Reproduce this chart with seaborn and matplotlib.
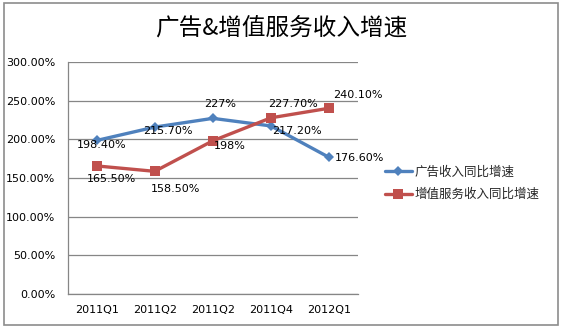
import matplotlib
matplotlib.use("Agg")
import matplotlib.pyplot as plt
import seaborn as sns
import pandas as pd
from matplotlib.patches import Rectangle

# quarters as shown on the axis
quarters = ["2011Q1", "2011Q2", "2011Q2", "2011Q4", "2012Q1"]
series_names = ["广告收入同比增速", "增值服务收入同比增速"]
ad_growth = [198.40, 215.70, 227.0, 217.20, 176.60]
vas_growth = [165.50, 158.50, 198.0, 227.70, 240.10]
ad_labels = ["198.40%", "215.70%", "227%", "217.20%", "176.60%"]
vas_labels = ["165.50%", "158.50%", "198%", "227.70%", "240.10%"]
y_ticks = [0, 50, 100, 150, 200, 250, 300]

sns.set_theme(style="white")
plt.rcParams["font.family"] = ["Noto Sans CJK SC", "DejaVu Sans"]

blue = "#4F81BD"
red = "#C0504D"
grid_c = "#868686"

df = pd.DataFrame({
    "pos": list(range(len(quarters))) * 2,
    "value": ad_growth + vas_growth,
    "series": [series_names[0]] * len(quarters) + [series_names[1]] * len(quarters),
})

fig = plt.figure(figsize=(5.63, 3.31), dpi=100)
ax = fig.add_axes([0.12, 0.112, 0.516, 0.701])

sns.lineplot(data=df, x="pos", y="value", hue="series", style="series",
             palette=[blue, red], markers=["D", "s"], dashes=False,
             markersize=6, linewidth=2.4, markeredgewidth=0, ax=ax, legend=False)
# enlarge the square markers of the second series
lines = ax.get_lines()
lines[0].set_markersize(5.5)
lines[1].set_markersize(7.5)

ax.set_xlim(-0.5, len(quarters) - 0.5)
ax.set_ylim(0, 300)
ax.set_yticks(y_ticks)
ax.set_yticklabels([f"{v:.2f}%" for v in y_ticks], fontsize=8, family="DejaVu Sans")
ax.set_xticks(range(len(quarters)))
ax.set_xticklabels(quarters, fontsize=8, family="DejaVu Sans")
ax.tick_params(axis="y", length=0, pad=9, colors="#000000")
ax.tick_params(axis="x", length=0, pad=8, colors="#000000")
ax.set_xlabel("")
ax.set_ylabel("")
ax.yaxis.grid(True, color=grid_c, linewidth=0.9)
ax.set_axisbelow(True)
for side in ["top", "right"]:
    ax.spines[side].set_visible(False)
for side in ["left", "bottom"]:
    ax.spines[side].set_color(grid_c)
    ax.spines[side].set_linewidth(0.9)

# value labels next to each point (pixel offsets)
ad_off = [(5, -5), (13, -4), (7, 14), (26, -5), (30, -1)]
vas_off = [(15, -13), (21, -18), (17, -5), (22, 14), (29, 13)]
for i, (v, t, o) in enumerate(zip(ad_growth, ad_labels, ad_off)):
    ax.annotate(t, (i, v), xytext=o, textcoords="offset pixels", ha="center",
                va="center", fontsize=8, family="DejaVu Sans", color="#000000",
                annotation_clip=False)
for i, (v, t, o) in enumerate(zip(vas_growth, vas_labels, vas_off)):
    ax.annotate(t, (i, v), xytext=o, textcoords="offset pixels", ha="center",
                va="center", fontsize=8, family="DejaVu Sans", color="#000000",
                annotation_clip=False)

fig.text(0.5, 0.912, "广告&增值服务收入增速", ha="center", va="center",
         fontsize=17, fontweight="medium", color="#000000")

handles = [plt.Line2D([], [], color=blue, marker="D", markersize=5.5, lw=2.4, markeredgewidth=0),
           plt.Line2D([], [], color=red, marker="s", markersize=7.5, lw=2.4, markeredgewidth=0)]
fig.legend(handles, series_names, loc="center left", bbox_to_anchor=(0.672, 0.446),
           frameon=False, fontsize=9, handlelength=2.2, handletextpad=0.2,
           labelspacing=0.75, borderpad=0)

fig.patches.append(Rectangle((4 / 563, 1 - 325 / 331), 554 / 563, 322 / 331,
                             transform=fig.transFigure, fill=False,
                             edgecolor="#8C8C8C", linewidth=1.2))

fig.savefig("out.png", dpi=100)
